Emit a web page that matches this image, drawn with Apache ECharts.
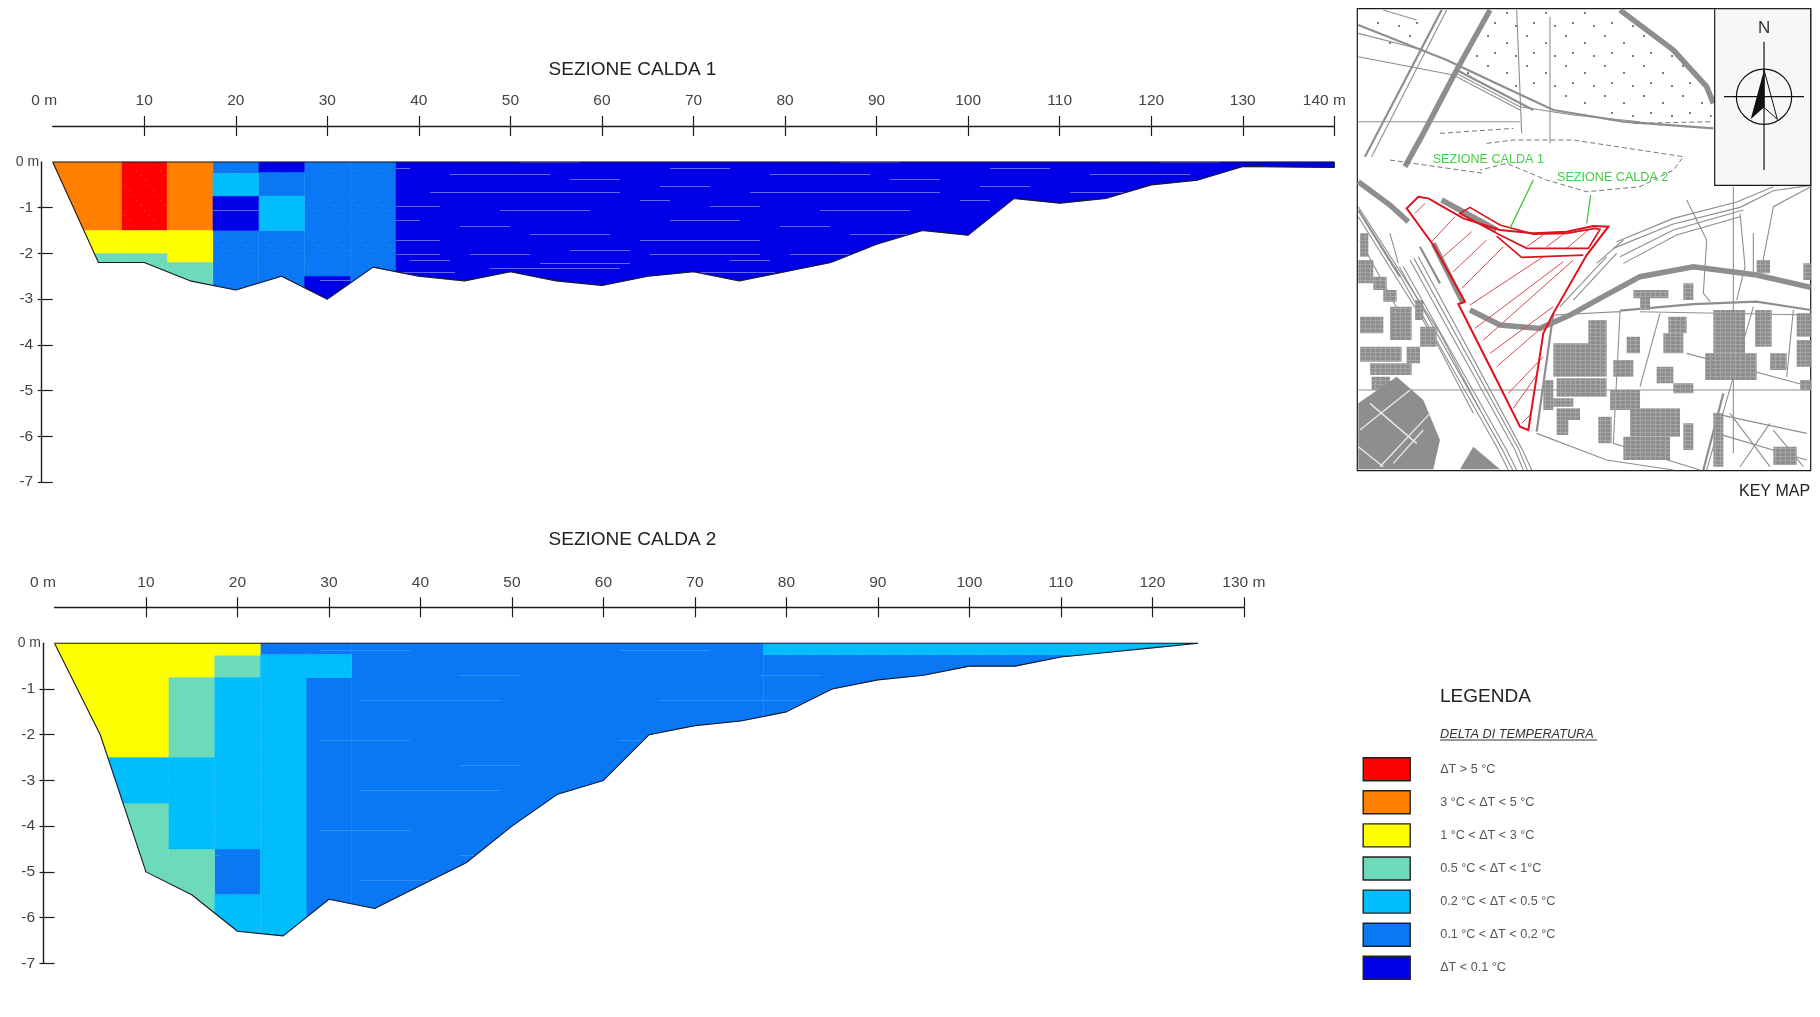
<!DOCTYPE html>
<html><head><meta charset="utf-8">
<style>html,body{margin:0;padding:0;background:#fff}#c{width:1820px;height:1017px}</style>
<script src="https://cdn.jsdelivr.net/npm/echarts@6/dist/echarts.min.js"></script>
</head><body><div id="c"></div>
<script>
// ---------- DATA ----------
const classNames = ['ΔT > 5 °C','3 °C < ΔT < 5 °C','1 °C < ΔT < 3 °C','0.5 °C < ΔT < 1°C','0.2 °C < ΔT < 0.5 °C','0.1 °C < ΔT < 0.2 °C','ΔT < 0.1 °C'];
const classColors = ['#ff0000','#ff7f00','#ffff00','#6ddbb9','#00bdfb','#0a78f5','#0000e8'];
const xTicks1 = [10,20,30,40,50,60,70,80,90,100,110,120,130,140];
const xTicks2 = [10,20,30,40,50,60,70,80,90,100,110,120,130];
const yTicks = [-1,-2,-3,-4,-5,-6,-7];
const profile1 = [[0,0],[5,-2.2],[10,-2.2],[15,-2.6],[20,-2.8],[25,-2.5],[30,-3],[35,-2.3],[40,-2.5],[45,-2.6],[50,-2.4],[55,-2.6],[60,-2.7],[65,-2.5],[70,-2.4],[75,-2.6],[80,-2.4],[85,-2.2],[90,-1.8],[95,-1.5],[100,-1.6],[105,-0.8],[110,-0.9],[115,-0.8],[120,-0.5],[125,-0.4],[130,-0.1],[140,-0.12],[140,0]];
const profile2 = [[0,0],[5,-2],[10,-5],[15,-5.5],[20,-6.3],[25,-6.4],[30,-5.6],[35,-5.8],[40,-5.3],[45,-4.8],[50,-4],[55,-3.3],[60,-3],[65,-2],[70,-1.8],[75,-1.7],[80,-1.5],[85,-1],[90,-0.8],[95,-0.7],[100,-0.5],[105,-0.5],[110,-0.3],[115,-0.2],[120,-0.1],[125,0]];
// cell: [x from, x to, top, bottom, class index]
const cells1 = [
 [0,7.5,0,-1.5,1],[0,7.5,-1.5,-2,2],[0,7.5,-2,-3,3],
 [7.5,12.5,0,-1.5,0],[7.5,12.5,-1.5,-2,2],[7.5,12.5,-2,-3,3],
 [12.5,17.5,0,-1.5,1],[12.5,17.5,-1.5,-2.2,2],[12.5,17.5,-2.2,-3,3],
 [17.5,22.5,0,-0.25,5],[17.5,22.5,-0.25,-0.75,4],[17.5,22.5,-0.75,-1.5,6],[17.5,22.5,-1.5,-3,5],
 [22.5,27.5,0,-0.22,6],[22.5,27.5,-0.22,-0.75,5],[22.5,27.5,-0.75,-1.5,4],[22.5,27.5,-1.5,-3,5],
 [27.5,32.5,0,-2.5,5],[27.5,32.5,-2.5,-3.1,6],
 [32.5,37.5,0,-3.1,5],
 [37.5,140,0,-3.1,6]
];
const cells2 = [
 [0,12.5,0,-2.5,2],[0,12.5,-2.5,-3.5,4],[0,12.5,-3.5,-7,3],
 [12.5,17.5,0,-0.75,2],[12.5,17.5,-0.75,-2.5,3],[12.5,17.5,-2.5,-4.5,4],[12.5,17.5,-4.5,-7,3],
 [17.5,22.5,0,-0.27,2],[17.5,22.5,-0.27,-0.75,3],[17.5,22.5,-0.75,-4.5,4],[17.5,22.5,-4.5,-5.5,5],[17.5,22.5,-5.5,-7,4],
 [22.5,27.5,0,-0.25,5],[22.5,27.5,-0.25,-7,4],
 [27.5,32.5,0,-0.25,5],[27.5,32.5,-0.25,-0.75,4],[27.5,32.5,-0.75,-7,5],
 [32.5,77.5,0,-7,5],
 [77.5,125,0,-0.25,4],[77.5,125,-0.25,-7,5]
];
// key map features, in map coordinates
const mapThin = [
 [[320,30],[95,470]],[[630,50],[630,430]],[[530,30],[545,400]],[[55,365],[540,365]],
 [[55,170],[340,225],[540,330]],[[340,215],[540,320],[700,345],[900,365]],
 [[1180,560],[1180,1360]],[[1100,720],[1090,880],[1110,905]],[[55,1170],[1412,1170]],[[900,935],[1412,945]],
 [[820,745],[1000,672],[1200,622],[1300,572],[1412,556]],[[830,725],[1000,655],[1190,606],[1300,560]],
 [[840,770],[1000,690],[1210,630]],[[850,790],[1010,705],[1200,650]],[[1040,600],[1100,720]],[[1240,700],[1240,830]],[[1200,640],[1215,800],[1190,900]],
 [[640,945],[840,935],[820,1330],[1080,1410]],[[1240,920],[1160,1200],[1100,1410]],[[1360,930],[1340,1130]],
 [[960,940],[900,1160]],[[590,1300],[800,1380],[1000,1410]],[[1120,1240],[1400,1300]],[[1130,1300],[1400,1380]],
 [[1170,1240],[1290,1400]],[[1290,1270],[1200,1400]],[[1300,1290],[1390,1400]],[[60,720],[190,960]],[[55,1300],[180,1400]],
 [[190,800],[500,1350],[530,1410]],[[210,780],[525,1350],[550,1410]],[[235,770],[545,1345],[575,1410]],[[165,800],[470,1340],[505,1410]],[[178,800],[485,1345],[518,1410]],[[222,775],[535,1345],[562,1410]],
 [[150,700],[175,790]],[[55,620],[300,1000],[420,1230]],[[55,650],[280,1010],[400,1240]],[[55,100],[250,150]],[[130,30],[230,60]],
 [[1412,560],[1300,620],[1260,830]],[[770,790],[850,720]],[[700,900],[830,760]],[[660,920],[800,770]],[[1040,1060],[1412,1160]]
];
const mapMedium = [[[305,30],[75,470]],[[55,75],[320,180],[500,265],[640,330],[850,365],[1120,385]],[[640,940],[590,1295]],[[1412,930],[1250,905],[1060,912],[840,932]],[[1150,1180],[1090,1410]],[[350,210],[580,330]],[[55,630],[180,830]],[[240,740],[300,850]]];
const mapThick = [[[450,30],[350,210],[250,400],[195,500]],[[840,30],[1000,150],[1100,260],[1120,310]],[[55,545],[150,615],[205,665]],[[280,730],[370,910]],[[305,600],[470,690]],[[1412,862],[1250,825],[1060,800],[900,830],[780,895],[690,945],[600,985],[480,975],[390,930]]];
const mapDashed = [[[440,430],[520,420],[700,420],[1030,470],[1000,510],[900,560],[740,575],[620,540],[500,490],[420,510]],[[150,480],[430,520]],[[300,400],[520,385]],[[880,370],[1120,365]]];
const mapBlocks = [[640,1030,800,1130],[650,1135,800,1190],[610,1140,640,1230],[745,960,800,1050],[820,1080,880,1130],[810,1170,900,1230],[870,1225,1020,1310],[850,1310,990,1380],[970,1000,1030,1060],[985,950,1040,1000],[950,1100,1000,1150],[1120,930,1215,1060],[1095,1060,1250,1140],[1370,1020,1412,1100],[1370,940,1412,1010],[1245,930,1295,1040],[1030,850,1060,900],[1030,1270,1060,1350],[650,1225,720,1260],[650,1260,685,1305],[775,1250,815,1330],[1120,1240,1150,1400],[1250,780,1290,820],[880,870,985,895],[150,920,215,1020],[60,1040,185,1085],[55,780,100,850],[240,980,290,1040],[130,870,170,905],[200,1040,240,1090],[95,1130,150,1170],[1300,1340,1370,1395],
 [60,700,85,770],[60,950,130,1000],[100,830,140,870],[225,900,250,960],[90,1090,215,1125],[640,1195,700,1220],[1000,1150,1060,1180],[860,1010,900,1060],[1290,1060,1340,1110],[1380,1140,1412,1170],[900,880,930,930],[1390,790,1412,840]];
const mapMasses = [[[55,1210],[170,1130],[250,1200],[300,1320],[280,1408],[55,1408]],[[400,1340],[480,1408],[360,1408]]];
const mapWhite = [[[60,1290],[210,1170]],[[120,1400],[270,1240]],[[55,1340],[130,1400]],[[160,1390],[250,1290]],[[90,1210],[230,1330]]];
const mapStipple = [[360,230],[640,300],[830,350],[1115,375],[1115,300],[1060,200],[840,30],[460,30]];
const mapStippleLeft = [[100,50],[300,40],[250,160],[100,120]];
const siteOutline = [[200,625],[235,590],[265,595],[370,655],[480,690],[580,700],[680,695],[760,678],[805,680],[740,765],[640,940],[610,1000],[565,1290],[540,1280],[470,1140],[355,912],[375,905],[280,735]];
const siteInner = [[360,640],[390,622],[480,675],[580,702],[680,700],[765,685],[780,688],[745,745],[620,745],[560,745],[470,700]];
const siteStrip = [[470,708],[545,772],[730,765]];
const siteHatch = [[225,640,255,610],[275,725,345,650],[310,770,395,695],[340,815,440,720],[365,865,490,740],[390,915,610,770],[405,985,670,785],[430,1020,700,780],[450,1060,640,920],[470,1100,620,970],[505,1180,610,1070],[520,1225,590,1125],[545,1270,575,1240],[560,740,610,705],[620,740,680,695],[680,745,745,690]];
const mapLabels = [['SEZIONE CALDA 1',445,477],['SEZIONE CALDA 2',818,533]];
const mapLeaders = [[[580,540],[510,685]],[[752,585],[740,670]]];

// ---------- TEXTURES ----------
function tile(w,h,color,draw){const c=document.createElement('canvas');c.width=w;c.height=h;const g=c.getContext('2d');g.fillStyle=color;g.fillRect(0,0,w,h);draw(g);return {image:c,repeat:'repeat'};}
function streaks(list,col){return g=>{g.fillStyle=col;list.forEach(s=>g.fillRect(s[0],s[1],s[2],1));};}
function dots(col){return g=>{g.fillStyle=col;for(let k=0;k<30;k++){g.fillRect(k*4,(k*5)%30,2,1);}};}
const darkStreaks=[[10,6,110],[150,6,60],[220,15,90],[60,24,75],[170,20,130],[0,32,180],[200,38,60],[30,44,60],[130,50,100],[250,55,50],[20,62,50],[110,68,190],[0,76,30],[70,82,50],[180,86,90],[30,96,70],[140,102,50],[210,110,80],[0,116,120],[250,2,60],[90,12,40]];
const texture={
 1:{6:tile(320,124,classColors[6],streaks(darkStreaks,'#6464ff')),5:tile(120,30,classColors[5],dots('rgba(255,255,255,.10)')),4:tile(120,30,classColors[4],dots('rgba(255,255,255,.10)')),0:tile(120,30,classColors[0],dots('rgba(255,255,255,.14)'))},
 2:{4:tile(120,30,classColors[4],dots('rgba(255,255,255,.10)')),5:tile(300,90,classColors[5],streaks([[20,20,90],[160,45,60],[60,70,140]],'rgba(255,255,255,.16)'))}
};
// ---------- CLIPPING of the cells by the river bed ----------
function clip(poly,inside,cut){const out=[];for(let i=0;i<poly.length;i++){const a=poly[i],b=poly[(i+1)%poly.length];const ia=inside(a),ib=inside(b);if(ia)out.push(a);if(ia!==ib)out.push(cut(a,b));}return out;}
function clipRect(poly,x0,x1,y0,y1){
 const atX=x=>(a,b)=>[x,a[1]+(b[1]-a[1])*(x-a[0])/(b[0]-a[0])];
 const atY=y=>(a,b)=>[a[0]+(b[0]-a[0])*(y-a[1])/(b[1]-a[1]),y];
 let p=clip(poly,q=>q[0]>=x0,atX(x0));if(p.length)p=clip(p,q=>q[0]<=x1,atX(x1));
 if(p.length)p=clip(p,q=>q[1]<=y0,atY(y0));if(p.length)p=clip(p,q=>q[1]>=y1,atY(y1));return p;
}
function cellSeries(sec,cells,profile,gridIdx,cls){
 const data=cells.filter(c=>c[4]===cls);
 return {type:'custom',name:classNames[cls],xAxisIndex:gridIdx*2,yAxisIndex:gridIdx*2,coordinateSystem:'cartesian2d',clip:false,silent:true,
  z:2+(cls===5?0:1),
  itemStyle:{color:classColors[cls]},data:data.map(c=>c.slice(0,4)),
  renderItem(params,api){
   const c=data[params.dataIndex];const pts=clipRect(profile,c[0],c[1],c[2],c[3]);
   if(pts.length<3)return null;
   return {type:'polygon',shape:{points:pts.map(p=>api.coord(p))},style:{fill:(texture[sec][cls])||classColors[cls],stroke:classColors[cls],lineWidth:0.4}};
  }};
}
function bedSeries(profile,gridIdx){
 return {type:'line',xAxisIndex:gridIdx*2,yAxisIndex:gridIdx*2,data:profile.concat([[0,0]]),showSymbol:false,symbol:'none',clip:false,silent:true,
  lineStyle:{color:'#1a1a2a',width:1.1},z:5};
}
// ---------- AXES ----------
function axes(ticks,maxX,gridIdx,lastLabel,firstPad){
 const xLine={show:true,onZero:false,lineStyle:{color:'#1c1c1c',width:1.4}};
 const hidden={show:false,onZero:false};
 const yLabel=v=>v===0?'{z|0 m}':'{n|'+v+'}';
 return {
  x:[{type:'value',gridIndex:gridIdx,position:'top',offset:36,min:0,max:maxX,interval:10,splitLine:{show:false},axisLine:xLine,
      axisTick:{show:true,length:10,customValues:ticks,lineStyle:{color:'#1c1c1c',width:1.2}},
      axisLabel:{show:true,margin:17,color:'#444',fontSize:15.5,fontFamily:'Liberation Sans',
        formatter:v=>v===0?'{f|0 m}':(v===maxX?'{l|'+lastLabel+'}':''+v),
        rich:{f:{fontSize:15.5,color:'#444',padding:[0,firstPad,0,0]},l:{fontSize:15.5,color:'#444',padding:[0,maxX===140?20:0,0,0]}}}},
     {type:'value',gridIndex:gridIdx,position:'top',offset:36,min:0,max:maxX,interval:10,splitLine:{show:false},axisLine:hidden,
      axisTick:{show:true,inside:true,length:10,customValues:ticks,lineStyle:{color:'#1c1c1c',width:1.2}},axisLabel:{show:false}}],
  y:[{type:'value',gridIndex:gridIdx,position:'left',offset:11.5,min:-7,max:0,interval:1,splitLine:{show:false},axisLine:xLine,
      axisTick:{show:true,length:3.5,customValues:yTicks,lineStyle:{color:'#1c1c1c',width:1.2}},
      axisLabel:{show:true,margin:2,formatter:yLabel,fontFamily:'Liberation Sans',
        rich:{z:{fontSize:14,color:'#444',padding:[0,0,0,0]},n:{fontSize:15.5,color:'#444',padding:[0,6,0,0]}}}},
     {type:'value',gridIndex:gridIdx,position:'left',offset:11.5,min:-7,max:0,interval:1,splitLine:{show:false},axisLine:hidden,
      axisTick:{show:true,inside:true,length:11.5,customValues:yTicks,lineStyle:{color:'#1c1c1c',width:1.2}},axisLabel:{show:false}}]
 };
}
const a1=axes(xTicks1,140,0,'140 m',17), a2=axes(xTicks2,130,1,'130 m',23);

// ---------- KEY MAP ----------
const GRAY='#8e8e8e';
const stippleTile=tile(39,30,'#ffffff',g=>{g.fillStyle='#7d7d7d';[[5,5],[24,12],[12,22],[33,25]].forEach(d=>g.fillRect(d[0],d[1],2,2));});
const blockTile=tile(5,4,GRAY,g=>{g.fillStyle='#a6a6a6';g.fillRect(0,0,5,1);g.fillRect(0,0,1,4);});
const mapItems=[];
function addLines(list,stroke,w,dash){list.forEach(pts=>mapItems.push({k:'line',pts,stroke,w,dash}));}
mapItems.push({k:'fill',pts:mapStipple,fill:stippleTile});
mapItems.push({k:'fill',pts:mapStippleLeft,fill:stippleTile});
addLines(mapThin,GRAY,1.1);addLines(mapMedium,GRAY,2.2);addLines(mapThick,GRAY,5.5);addLines(mapDashed,'#777',1,[5,3]);
mapBlocks.forEach(b=>mapItems.push({k:'fill',pts:[[b[0],b[1]],[b[2],b[1]],[b[2],b[3]],[b[0],b[3]]],fill:blockTile}));
mapMasses.forEach(m=>mapItems.push({k:'fill',pts:m,fill:GRAY}));
addLines(mapWhite,'#e8e8e8',1.4);
siteHatch.forEach(h=>mapItems.push({k:'line',pts:[[h[0],h[1]],[h[2],h[3]]],stroke:'#d94a50',w:1}));
mapItems.push({k:'ring',pts:siteOutline,stroke:'#e2101c',w:2});
mapItems.push({k:'ring',pts:siteInner,stroke:'#d8141f',w:1.7});
mapItems.push({k:'line',pts:siteStrip,stroke:'#d8141f',w:1.7});
addLines(mapLeaders,'#35c235',1.2);
mapLabels.forEach(l=>mapItems.push({k:'text',t:l[0],x:l[1],y:l[2],fill:'#45cc45',size:12.6}));
// north box
const boxPts=[[1124,26],[1412,26],[1412,556],[1124,556]];
mapItems.push({k:'ringf',pts:boxPts,fill:'#f7f7f7',stroke:'#1a1a1a',w:1.2});
mapItems.push({k:'line',pts:[[1272,125],[1272,510]],stroke:'#111',w:1.2});
mapItems.push({k:'line',pts:[[1152,290],[1392,290]],stroke:'#111',w:1.2});
mapItems.push({k:'circle',x:1272,y:290,r:83});
mapItems.push({k:'fill',pts:[[1272,210],[1272,322],[1232,358]],fill:'#111'});
mapItems.push({k:'ring',pts:[[1272,210],[1312,358],[1272,322]],stroke:'#111',w:1});
mapItems.push({k:'text',t:'N',x:1272,y:86,fill:'#333',size:17});

const mapSeries={type:'custom',xAxisIndex:4,yAxisIndex:4,coordinateSystem:'cartesian2d',clip:true,silent:true,
 data:mapItems.map((m,i)=>[i]),
 renderItem(params,api){
  const m=mapItems[params.dataIndex];
  const P=p=>api.coord(p);
  if(m.k==='line')return {type:'polyline',shape:{points:m.pts.map(P)},style:{stroke:m.stroke,lineWidth:m.w,fill:null,lineDash:m.dash||null}};
  if(m.k==='fill')return {type:'polygon',shape:{points:m.pts.map(P)},style:{fill:m.fill,stroke:null}};
  if(m.k==='ring')return {type:'polygon',shape:{points:m.pts.map(P)},style:{fill:null,stroke:m.stroke,lineWidth:m.w}};
  if(m.k==='ringf')return {type:'polygon',shape:{points:m.pts.map(P)},style:{fill:m.fill,stroke:m.stroke,lineWidth:m.w}};
  if(m.k==='circle'){const c=P([m.x,m.y]);const e=P([m.x+m.r,m.y]);return {type:'circle',shape:{cx:c[0],cy:c[1],r:e[0]-c[0]},style:{fill:null,stroke:'#111',lineWidth:1.2}};}
  if(m.k==='text'){const c=P([m.x,m.y]);return {type:'text',x:c[0],y:c[1],style:{text:m.t,fill:m.fill,font:m.size+'px "Liberation Sans"',align:'center',verticalAlign:'middle'}};}
  return null;
 }};

// ---------- CHART ----------
const series=[];
classNames.forEach((n,i)=>{series.push(cellSeries(1,cells1,profile1,0,i));series.push(cellSeries(2,cells2,profile2,1,i));});
series.push(bedSeries(profile1,0),bedSeries(profile2,1),mapSeries);
const T=(text,left,top,size,extra)=>({text,left,top,textAlign:'left',padding:0,textStyle:Object.assign({fontFamily:'Liberation Sans',fontWeight:'normal',fontSize:size,color:'#222'},extra||{})});
const option={
 animation:false,backgroundColor:'#fff',
 title:[
  Object.assign(T('SEZIONE CALDA 1',632.5,60,19),{textAlign:'center'}),
  Object.assign(T('SEZIONE CALDA 2',632.5,530,19),{textAlign:'center'}),
  T('LEGENDA',1440,687,19),
  T('DELTA DI TEMPERATURA',1440,728,12.7,{fontStyle:'italic',color:'#333'}),
  T('KEY MAP',1739,484,16)
 ],
 legend:{left:1362.5,top:757,orient:'vertical',padding:0,icon:'rect',itemWidth:47,itemHeight:23,itemGap:8.7,selectedMode:false,
  data:classNames,itemStyle:{borderColor:'#222',borderWidth:1.4},
  textStyle:{fontFamily:'Liberation Sans',fontSize:12.6,color:'#555',padding:[0,0,3,25]}},
 grid:[
  {left:52.7,top:162,width:1281.6,height:320},
  {left:54.5,top:643.3,width:1189.3,height:320},
  {left:1357.3,top:8.7,width:453.4,height:462,show:true,borderColor:'#1a1a1a',borderWidth:1.2,backgroundColor:'#fff',z:1}
 ],
 xAxis:[...a1.x,...a2.x,{type:'value',gridIndex:2,min:52,max:1412,show:false}],
 yAxis:[...a1.y,...a2.y,{type:'value',gridIndex:2,min:26,max:1412,inverse:true,show:false}],
 graphic:[{type:'line',shape:{x1:1440,y1:740,x2:1597,y2:740},style:{stroke:'#333',lineWidth:1}}],
 series
};
const chart=echarts.init(document.getElementById('c'),null,{renderer:'canvas',width:1820,height:1017});
chart.setOption(option);
</script></body></html>
